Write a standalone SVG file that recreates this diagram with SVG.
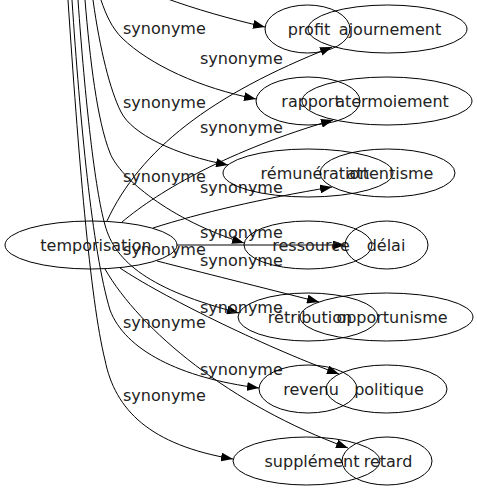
<svg xmlns="http://www.w3.org/2000/svg" width="477" height="491" viewBox="0 0 477 491">
<style>
.n ellipse{fill:none;stroke:#000;stroke-width:1}
text{font-family:"DejaVu Sans",sans-serif;font-size:16px;fill:#222}
.n text{text-anchor:middle}
.l{text-anchor:start}
#edges path{fill:none;stroke:#000;stroke-width:1;marker-end:url(#ah)}
</style>
<defs>
<marker id="ah" markerUnits="userSpaceOnUse" markerWidth="12" markerHeight="9" refX="12" refY="4.5" orient="auto" viewBox="0 0 12 9">
<path d="M0,0 L12,4.5 L0,9 z" fill="#000"/>
</marker>
</defs>
<rect width="477" height="491" fill="#fff"/>
<g id="edges">
<path d="M165,-2 C195,9 230,19 265,27"/>
<path d="M101,0 C106,15 112,28 122,38 C150,65 200,88 256,99"/>
<path d="M93,0 C100,50 110,90 121,112 C132,134 175,155 228,165"/>
<path d="M85,0 C90,60 97,120 110,153 C120,178 170,220 244,243"/>
<path d="M78,0 C85,100 95,190 105,225 C115,262 150,290 239,313"/>
<path d="M72,0 C80,120 92,250 110,310 C125,350 180,378 259,388"/>
<path d="M68,0 C78,150 90,300 105,360 C115,410 150,445 233,459"/>
<path d="M107,221 C140,150 210,95 332,47"/>
<path d="M122,222 C160,190 230,150 333,120"/>
<path d="M153,228 C200,213 260,199 332,187"/>
<path d="M177,245 L345,245"/>
<path d="M157,261 C200,272 260,287 319,302"/>
<path d="M120,268 C160,295 260,345 339,374"/>
<path d="M105,269 C140,330 230,405 348,448"/>
<text class="l" x="123" y="34">synonyme</text>
<text class="l" x="123" y="108">synonyme</text>
<text class="l" x="123" y="182">synonyme</text>
<text class="l" x="123" y="255">synonyme</text>
<text class="l" x="123" y="328">synonyme</text>
<text class="l" x="123" y="401">synonyme</text>
<text class="l" x="200" y="64">synonyme</text>
<text class="l" x="200" y="133">synonyme</text>
<text class="l" x="200" y="193">synonyme</text>
<text class="l" x="200" y="238">synonyme</text>
<text class="l" x="200" y="266">synonyme</text>
<text class="l" x="200" y="313">synonyme</text>
<text class="l" x="200" y="375">synonyme</text>
</g>
<g id="temporisation" class="n"><ellipse cx="91" cy="245" rx="86" ry="24"/><text x="96" y="251">temporisation</text></g>
<g id="profit" class="n"><ellipse cx="307.5" cy="29" rx="42.5" ry="24"/><text x="309" y="35">profit</text></g>
<g id="rapport" class="n"><ellipse cx="308" cy="101" rx="52" ry="24"/><text x="311" y="107">rapport</text></g>
<g id="remuneration" class="n"><ellipse cx="308" cy="173" rx="85" ry="24"/><text x="315" y="179">rémunération</text></g>
<g id="ressource" class="n"><ellipse cx="308" cy="245" rx="64" ry="24"/><text x="311" y="251">ressource</text></g>
<g id="retribution" class="n"><ellipse cx="308" cy="317" rx="70" ry="24"/><text x="310" y="323">rétribution</text></g>
<g id="revenu" class="n"><ellipse cx="308" cy="389" rx="49" ry="24"/><text x="311" y="395">revenu</text></g>
<g id="supplement" class="n"><ellipse cx="306.5" cy="461" rx="73.5" ry="24"/><text x="312" y="467">supplément</text></g>
<g id="ajournement" class="n"><ellipse cx="387.5" cy="29" rx="79.5" ry="24"/><text x="390" y="35">ajournement</text></g>
<g id="atermoiement" class="n"><ellipse cx="387" cy="101" rx="85" ry="24"/><text x="392" y="107">atermoiement</text></g>
<g id="attentisme" class="n"><ellipse cx="387.5" cy="173" rx="67.5" ry="24"/><text x="390" y="179">attentisme</text></g>
<g id="delai" class="n"><ellipse cx="386.5" cy="245" rx="41.5" ry="24"/><text x="386" y="251">délai</text></g>
<g id="opportunisme" class="n"><ellipse cx="386.5" cy="317" rx="86.5" ry="24"/><text x="392" y="323">opportunisme</text></g>
<g id="politique" class="n"><ellipse cx="386.5" cy="389" rx="60.5" ry="24"/><text x="389" y="395">politique</text></g>
<g id="retard" class="n"><ellipse cx="387" cy="461" rx="45" ry="24"/><text x="388" y="467">retard</text></g>
</svg>
